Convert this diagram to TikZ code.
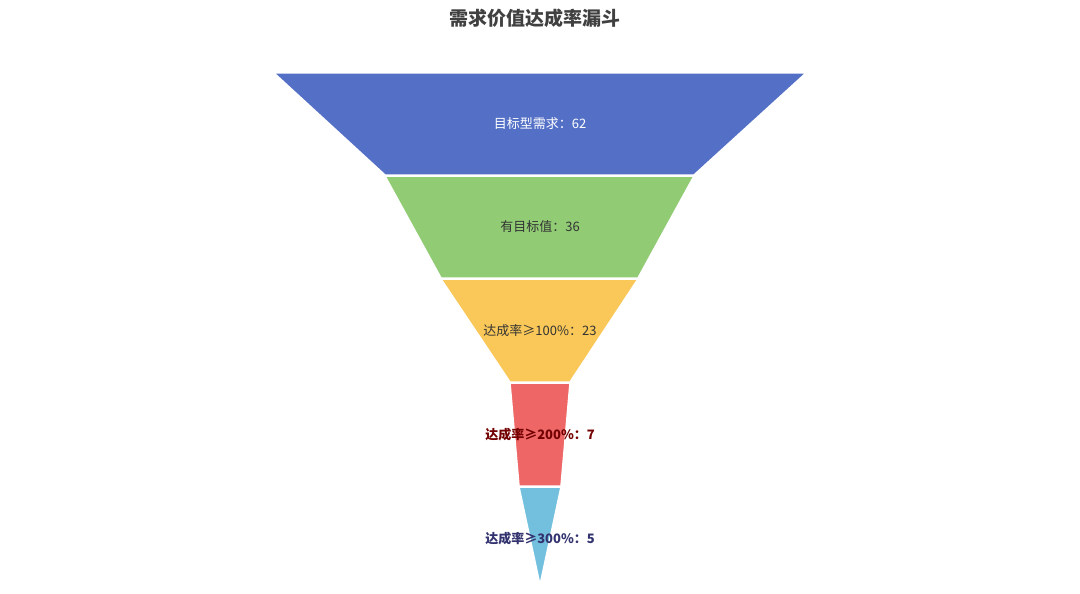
\documentclass[tikz,border=0pt]{standalone}
\usepackage{fontspec}
\setmainfont{Noto Sans CJK SC}
\definecolor{c1}{HTML}{5470C6}
\definecolor{c2}{HTML}{91CC75}
\definecolor{c3}{HTML}{FAC858}
\definecolor{c4}{HTML}{EE6666}
\definecolor{c5}{HTML}{73C0DE}
\tikzset{seg/.style={draw=white,line width=1.5pt},
lab/.style={font=\fontsize{13pt}{15pt}\selectfont}}
\begin{document}
\begin{tikzpicture}[x=1pt,y=-1pt]
\useasboundingbox (0,0) rectangle (1080,594);
\node[font=\fontsize{19pt}{22pt}\selectfont\bfseries,text=black!75] (title) at (535,18) {需求价值达成率漏斗};
\fill[seg,fill=c1] (274,73) -- (806,73) -- (694,175) -- (385,175) -- cycle;
\fill[seg,fill=c2] (385,176) -- (694,176) -- (638,278) -- (441,278) -- cycle;
\fill[seg,fill=c3] (441,279) -- (638,279) -- (570,382) -- (510,382) -- cycle;
\fill[seg,fill=c4] (510,383) -- (570,383) -- (561,486) -- (519,486) -- cycle;
\fill[seg,fill=c5] (519,487) -- (561,487) -- (540,585) -- cycle;
\node[lab,text=white] (l1) at (540,124) {目标型需求：62};
\node[lab,text=black!80] (l2) at (540,227) {有目标值：36};
\node[lab,text=black!80] (l3) at (540,331) {达成率≥100\%：23};
\node[lab,text=red!45!black,font=\fontsize{13pt}{15pt}\selectfont\bfseries] (l4) at (540,435) {达成率≥200\%：7};
\node[lab,text=blue!30!black!80,font=\fontsize{13pt}{15pt}\selectfont\bfseries] (l5) at (540,539) {达成率≥300\%：5};
\end{tikzpicture}
\end{document}
